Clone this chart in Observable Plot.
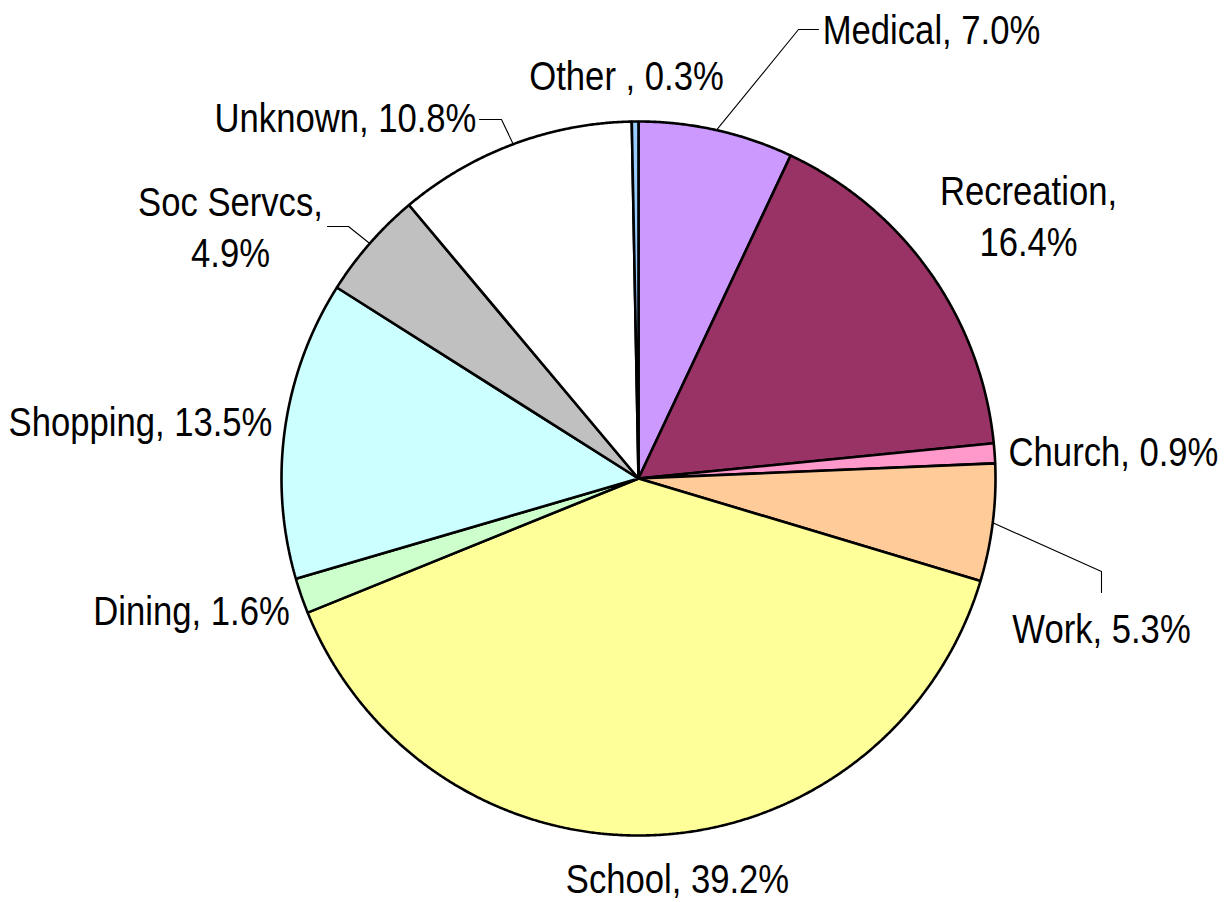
<!DOCTYPE html>
<html><head><meta charset="utf-8">
<script src="https://cdn.jsdelivr.net/npm/d3@7"></script>
<script src="https://cdn.jsdelivr.net/npm/@observablehq/plot@0.6"></script>
<style>body{margin:0;background:#fff}</style>
</head><body><div id="chart"></div>
<script>
// ---- data ----
const categories = ["Medical","Recreation","Church","Work","School","Dining","Shopping","Soc Servcs","Unknown","Other"];
const shares = [7.0,16.4,0.9,5.3,39.2,1.6,13.5,4.9,10.8,0.3];
const labelTexts = ["Medical, 7.0%","Recreation,\n16.4%","Church, 0.9%","Work, 5.3%","School, 39.2%","Dining, 1.6%","Shopping, 13.5%","Soc Servcs,\n4.9%","Unknown, 10.8%","Other , 0.3%"];
const colors = ["#CC99FF","#993366","#FF99CC","#FFCC99","#FFFF99","#CCFFCC","#CCFFFF","#C0C0C0","#FFFFFF","#99CCFF"];

// ---- layout (pixels) ----
const W = 1231, H = 902, CX = 638, CY = 478, R = 357;
const NARROW = 0.845; // horizontal compression to mimic a narrow sans face
const labelPos = {
  "Medical":[931,27], "Recreation":[1028,214], "Church":[1113,449], "Work":[1101,626],
  "School":[677,876], "Dining":[191,608], "Shopping":[140,419], "Soc Servcs":[230,225],
  "Unknown":[345,115], "Other":[626,73]
};
const leaderBends = {
  "Medical":[[798,29],[818,29]],
  "Unknown":[[501,119],[479,119]],
  "Soc Servcs":[[348,226],[327,226]],
  "Work":[[1101,571],[1101,592]]
};

const pie = d3.pie().sort(null).value(d => d.share)(categories.map((name,i)=>({name, share: shares[i]})));
const polar = (a, r) => [CX + r*Math.sin(a), CY - r*Math.cos(a)];

const slicePts = [];
for (const p of pie) {
  const name = p.data.name;
  slicePts.push({name, x: CX, y: CY});
  const n = Math.max(2, Math.ceil((p.endAngle - p.startAngle) / (Math.PI/720)));
  for (let k = 0; k <= n; k++) {
    const a = p.startAngle + (p.endAngle - p.startAngle) * k / n;
    const [x,y] = polar(a, R);
    slicePts.push({name, x, y});
  }
}

const leaderPts = [];
for (const p of pie) {
  const name = p.data.name;
  if (!leaderBends[name]) continue;
  const mid = (p.startAngle + p.endAngle)/2;
  const [x0,y0] = polar(mid, R);
  leaderPts.push({name, x:x0, y:y0});
  for (const [x,y] of leaderBends[name]) leaderPts.push({name, x, y});
}

const labels = categories.map((name,i)=>({name, text: labelTexts[i], x: labelPos[name][0], y: labelPos[name][1]}));

const chart = Plot.plot({
  width: W, height: H, margin: 0,
  x: {domain:[0,W], range:[0,W], axis:null},
  y: {domain:[0,H], range:[0,H], axis:null},
  color: {domain: categories, range: colors},
  style: {background:"#fff"},
  marks: [
    Plot.line(leaderPts, {x:"x", y:"y", z:"name", stroke:"#000", strokeWidth:1.1}),
    Plot.line(slicePts, {x:"x", y:"y", z:"name", fill:"name", stroke:"#000", strokeWidth:2.6, curve:"linear-closed", strokeLinejoin:"miter"}),
    Plot.text(labels, {x:"x", y:"y", text:"text", fontSize:41, lineHeight:1.24, fill:"#000",
      fontFamily:"'Liberation Sans Narrow','Arial Narrow','Liberation Sans',Arial,sans-serif"})
  ]
});
// compress label text horizontally (keeps real text)
d3.select(chart).selectAll("g[aria-label='text'] text").each(function() {
  const t = this;
  let tr = t.getAttribute("transform");
  if (!tr) {
    const x = +(t.getAttribute("x") || 0), y = +(t.getAttribute("y") || 0);
    t.removeAttribute("x"); t.removeAttribute("y");
    tr = `translate(${x},${y})`;
  }
  t.setAttribute("transform", tr + ` scale(${NARROW},1)`);
});
document.getElementById("chart").appendChild(chart);
</script>
</body></html>
